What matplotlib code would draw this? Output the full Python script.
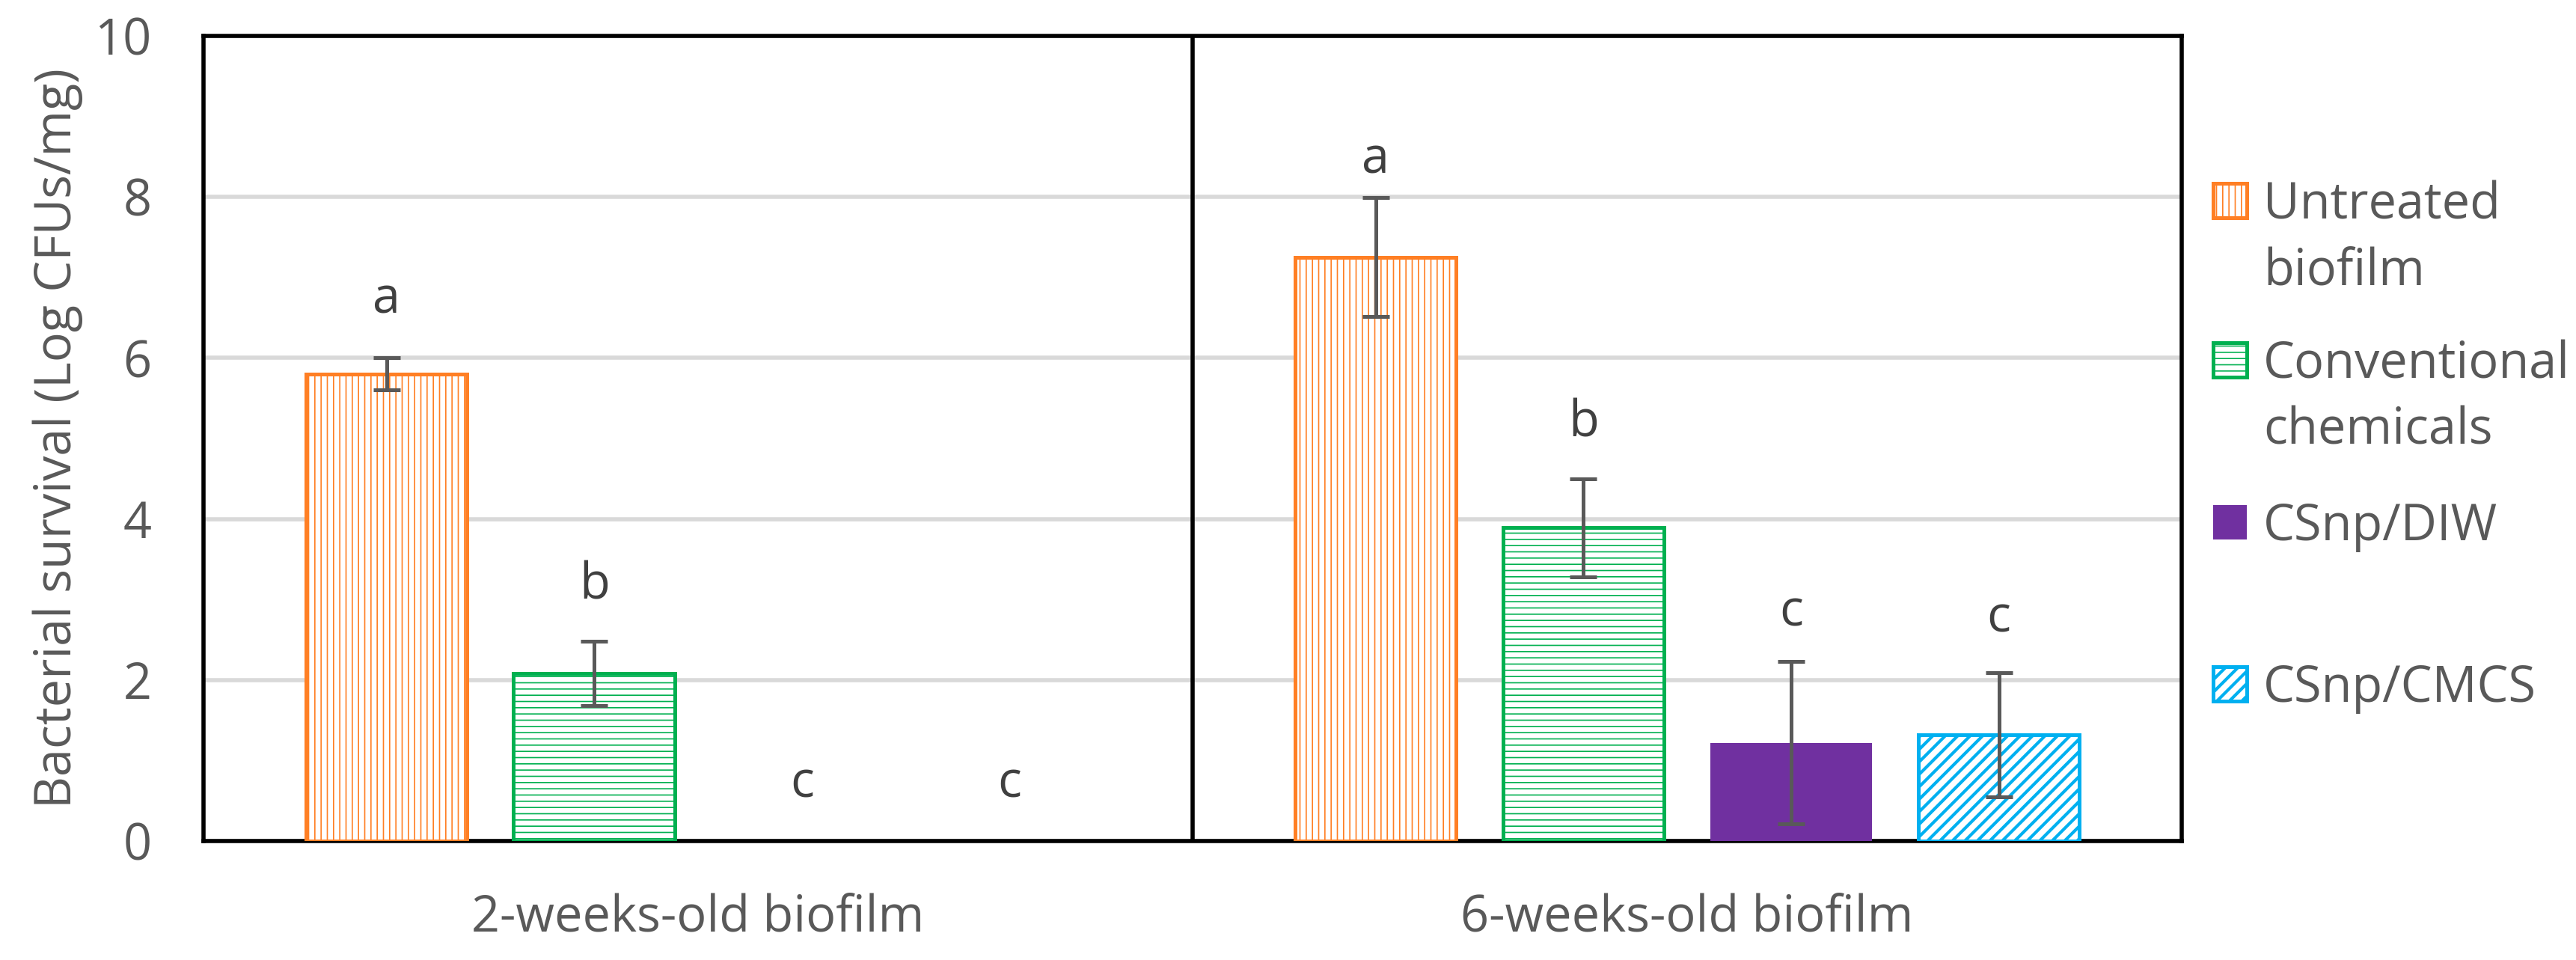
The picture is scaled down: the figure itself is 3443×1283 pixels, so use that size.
import numpy as np
import matplotlib
matplotlib.use("Agg")
import matplotlib.pyplot as plt
from matplotlib.patches import Rectangle

# données (Log CFUs/mg)
groupes = ["2-weeks-old biofilm", "6-weeks-old biofilm"]
series = ["Untreated\nbiofilm", "Conventional\nchemicals", "CSnp/DIW", "CSnp/CMCS"]
untreated = [5.80, 7.25]
untreated_err = [0.20, 0.74]
conventional = [2.08, 3.89]
conventional_err = [0.40, 0.61]
csnp_diw = [0.0, 1.22]
csnp_diw_err = [0.0, 1.01]
csnp_cmcs = [0.0, 1.32]
csnp_cmcs_err = [0.0, 0.77]
lettres_untreated = ["a", "a"]
lettres_conventional = ["b", "b"]
lettres_diw = ["c", "c"]
lettres_cmcs = ["c", "c"]

valeurs = [untreated, conventional, csnp_diw, csnp_cmcs]
erreurs = [untreated_err, conventional_err, csnp_diw_err, csnp_cmcs_err]
lettres = [lettres_untreated, lettres_conventional, lettres_diw, lettres_cmcs]

couleurs = ["#FF7F24", "#00B050", "#7030A0", "#00B0F0"]
fonds = ["white", "white", "#7030A0", "white"]
hachures = ["||||", "----", None, "////"]
epaisseurs_hachures = [0.6, 0.6, 0.6, 1.5]
ecart_lettres = [[0.72, 0.47], [0.69, 0.69], [0.71, 0.61], [0.71, 0.67]]#hauteur des lettres au-dessus des barres d'erreur
gris = "#595959"

plt.rcParams['font.family'] = ['Open Sans', 'DejaVu Sans']

########################################################################################################
fig = plt.figure(figsize=(3443/200, 1283/200), dpi=200)
ax = fig.add_axes([0.079, 0.124, 0.768, 0.8386])

x = np.arange(len(groupes))
decalages = (np.arange(len(series)) - 1.5) * 0.21

for k in range(len(series)):
    plt.rcParams['hatch.linewidth'] = epaisseurs_hachures[k]
    barres = ax.bar(x + decalages[k], valeurs[k], width=0.163, facecolor=fonds[k],
                    edgecolor=couleurs[k], linewidth=1.8 if hachures[k] else 0,
                    hatch=hachures[k], zorder=3)
    for b in barres:
        if hasattr(b, "set_hatch_linewidth"):
            b.set_hatch_linewidth(epaisseurs_hachures[k])
        if b.get_height() == 0:
            b.set_visible(False)
    masque = np.array(erreurs[k]) > 0
    if masque.any():
        ax.errorbar((x + decalages[k])[masque], np.array(valeurs[k])[masque],
                    yerr=np.array(erreurs[k])[masque], fmt='none', ecolor=gris,
                    elinewidth=1.8, capsize=6.6, capthick=1.8, zorder=4)
    for i in range(len(groupes)):
        ax.text(x[i] + decalages[k], valeurs[k][i] + erreurs[k][i] + ecart_lettres[k][i], lettres[k][i],
                ha='center', va='center', fontsize=24, color='#404040', zorder=5)

ax.set_xlim(-0.5, 1.5)
ax.set_ylim(0, 10)
ax.set_yticks(np.arange(0, 11, 2))
ax.set_xticks(x)
ax.set_xticklabels(groupes)
ax.tick_params(axis='both', length=0, labelsize=24, labelcolor=gris)
ax.tick_params(axis='y', pad=25)
ax.tick_params(axis='x', pad=25)
ax.grid(axis='y', color='#D9D9D9', linewidth=2)
ax.set_axisbelow(True)
for s in ax.spines.values():
    s.set_color('black')
    s.set_linewidth(2)
ax.axvline(0.5, color='black', linewidth=2, zorder=6)

ax.set_ylabel("Bacterial survival (Log CFUs/mg)", fontsize=24, color=gris, va='center')
ax.yaxis.set_label_coords(-0.0737, 0.5)

##################################################  légende  ######################################################
W, H = 3443, 1283
centres_y = [268, 481, 698, 914]
for k in range(len(series)):
    plt.rcParams['hatch.linewidth'] = epaisseurs_hachures[k]
    r = Rectangle((2958 / W, 1 - (centres_y[k] + 23) / H), 45 / W, 46 / H,
                  transform=fig.transFigure, facecolor=fonds[k], edgecolor=couleurs[k],
                  linewidth=1.8 if hachures[k] else 0, hatch=hachures[k])
    if hasattr(r, "set_hatch_linewidth"):
        r.set_hatch_linewidth(epaisseurs_hachures[k])
    fig.add_artist(r)
    fig.text(3025 / W, 1 - (centres_y[k] - 27) / H, series[k], fontsize=24, color=gris,
             ha='left', va='top', linespacing=1.4)

plt.savefig("out.png", dpi=200)
plt.close()
